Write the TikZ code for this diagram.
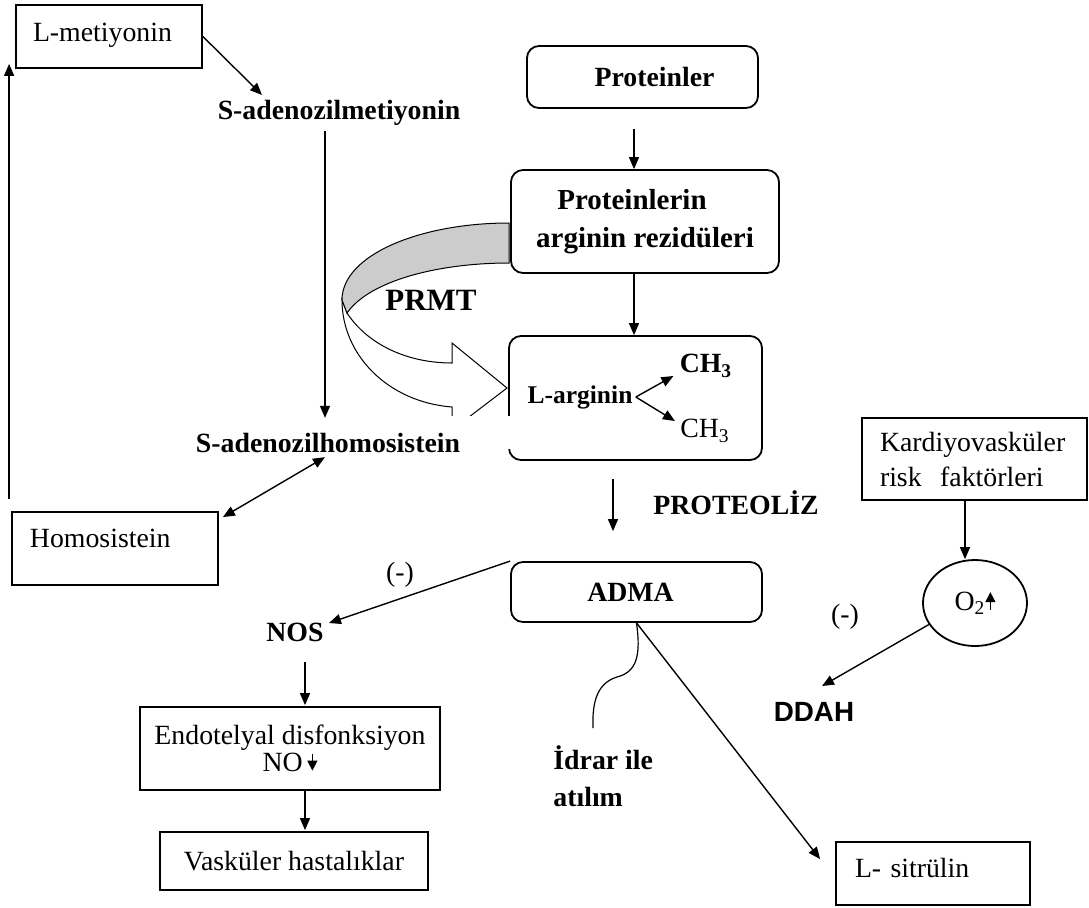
\documentclass[tikz,border=0pt]{standalone}
\usepackage{fontspec}
\setmainfont{Liberation Serif}
\newfontfamily\arialfont{Liberation Sans}
\usetikzlibrary{arrows.meta,calc,shapes.geometric}
\begin{document}
\begin{tikzpicture}[x=0.5pt,y=-0.5pt,
  every node/.style={font=\fontsize{13.9}{16}\selectfont, inner sep=0pt},
  box/.style={draw, line width=0.9pt, rectangle},
  rbox/.style={box, rounded corners=6pt},
  arr/.style={line width=0.7pt, -{Triangle[length=6pt,width=5pt]}},
  darr/.style={line width=0.7pt, {Triangle[length=6pt,width=5pt]}-{Triangle[length=6pt,width=5pt]}},
  lbl/.style={font=\fontsize{13.9}{16}\selectfont\bfseries},
  ribbon/.style={line width=0.5pt},
]
\useasboundingbox (0,0) rectangle (1089,907);

% left cycle
\node[box, minimum width=93pt, minimum height=31.5pt, text width=76pt, align=left, text depth=4.5pt] (lmet) at (109,36.5) {L-metiyonin};
\node[lbl] (sam) at (339,113) {S-adenozilmetiyonin};
\node[box, minimum width=103pt, minimum height=36.5pt, text width=85pt, align=left, text depth=10.5pt] (hom) at (115,548.5) {Homosistein};

% right column boxes
\node[rbox, lbl, minimum width=115.5pt, minimum height=31pt] (prot) at (642.5,77) {\hspace*{12pt}Proteinler};
\node[rbox, font=\fontsize{14.5}{19}\selectfont\bfseries, align=center, minimum width=134pt, minimum height=51.5pt] (protarg) at (645,221.5) {Proteinlerin\hspace*{13pt}\\arginin rezidüleri};
\node[rbox, minimum width=126.5pt, minimum height=62pt] (largbox) at (635.5,398) {};

% PRMT ribbon arrow
\draw[ribbon, fill=white] (342,300) .. controls (342,355) and (388,402) .. (452,407)
  -- (452,430) -- (507,388) -- (452,343) -- (452,363)
  .. controls (408,363) and (368,345) .. (347,313) -- cycle;
\draw[ribbon, fill=gray!40] (509,223) .. controls (420,223) and (342,255) .. (342,300)
  -- (347,313) .. controls (370,280) and (440,263) .. (509,263) -- cycle;
\fill[white] (196,416) rectangle (511,449);
\node[lbl] (sah) at (328,443) {S-adenozilhomosistein};
\node[font=\fontsize{15.5}{18}\selectfont\bfseries] (prmt) at (431,300) {PRMT};

% inside L-arginin box
\node[font=\fontsize{12.75}{15}\selectfont\bfseries] (larg) at (580,397) {L-arginin};
\node[lbl] (ch1) at (706,366) {CH\textsubscript{3}};
\node (ch2) at (705,431) {CH\textsubscript{3}};

\node[rbox, lbl, minimum width=125.5pt, minimum height=30pt] (adma) at (636.5,592) {ADMA\hspace*{6pt}};
\node[lbl] (proteoliz) at (736,503) {PROTEOLİZ};

% lower left
\node[lbl] (nos) at (295,632) {NOS};
\node (minus1) at (400,575) {(-)};
\node[box, align=center, font=\fontsize{13.9}{13.5}\selectfont, minimum width=150pt, minimum height=41.5pt] (endo) at (290,748.5) {Endotelyal disfonksiyon\\NO\,\tikz[baseline=0pt]\draw[line width=0.6pt,-{Triangle[length=5pt,width=5pt]}](0pt,9pt)--(0pt,0.5pt);};
\node[box, minimum width=134pt, minimum height=29pt] (vask) at (294,861) {Vasküler hastalıklar};

% lower middle / right
\node[font=\fontsize{13.9}{18.5}\selectfont\bfseries, align=left, anchor=west] (idr) at (553,776) {İdrar ile\\atılım};
\coordinate (idrtop) at (593,728);
\node[box, minimum width=97pt, minimum height=31.5pt, text width=78pt, align=left, text depth=5.5pt] (sit) at (933,873.5) {L- sitrülin};
\node[box, font=\fontsize{13.9}{17.5}\selectfont, minimum width=112.5pt, minimum height=41pt, text width=94.5pt, align=left] (kard) at (974.5,459) {Kardiyovasküler\\risk~ faktörleri};
\node[draw, ellipse, line width=0.9pt, minimum width=52pt, minimum height=43pt] (o2) at (975,603) {O\textsubscript{2}\tikz[baseline=0pt]\draw[line width=0.6pt,-{Triangle[length=5pt,width=5pt]}](0pt,0pt)--(0pt,9pt);};
\node (minus2) at (845,617) {(-)};
\node[font=\arialfont\fontsize{13.9}{16}\selectfont\bfseries] (ddah) at (814,712) {DDAH};

% connectors
\draw[arr] (lmet.east) -- ($(sam.north)+(-77,-5)$);
\draw[arr] ($(sam.south)+(-14,5)$) -- ($(sah.north)+(-3,-15)$);
\draw[arr] ($(hom.north west)+(-2,-12)$) -- ($(lmet.south west)+(-6,-5)$);
\draw[darr] ($(hom.north east)+(4,6)$) -- ($(sah.south)+(-3,4)$);
\draw[arr] ($(prot.south)+(-8.5,20)$) -- ($(protarg.north)+(-11,0)$);
\draw[arr] ($(protarg.south)+(-11,0)$) -- ($(largbox.north)+(-1.5,0)$);
\draw[arr] ($(larg.east)+(3,0)$) -- ($(ch1.west)+(-6,10)$);
\draw[arr] ($(larg.east)+(3,0)$) -- ($(ch2.west)+(-5,-10)$);
\draw[arr] ($(largbox.south)+(-22.5,18)$) -- ($(adma.north)+(-23.5,-30)$);
\draw[arr] (adma.north west) -- ($(nos.east)+(5,-9)$);
\draw[arr] ($(nos.south)+(10,20)$) -- ($(endo.north)+(15,-1)$);
\draw[arr] ($(endo.south)+(15,0)$) -- ($(vask.north)+(11,-1)$);
\draw[line width=0.6pt] (adma.south) .. controls (641,655) and (637,672) .. (617,677) .. controls (598,683) and (592,700) .. (idrtop);
\draw[arr] (adma.south) -- ($(sit.north west)+(-15,18)$);
\draw[arr] ($(kard.south)+(-9.5,0)$) -- ($(o2.north)+(-10,0)$);
\draw[arr] (o2.205) -- ($(ddah.north)+(8,-16)$);
\end{tikzpicture}
\end{document}
